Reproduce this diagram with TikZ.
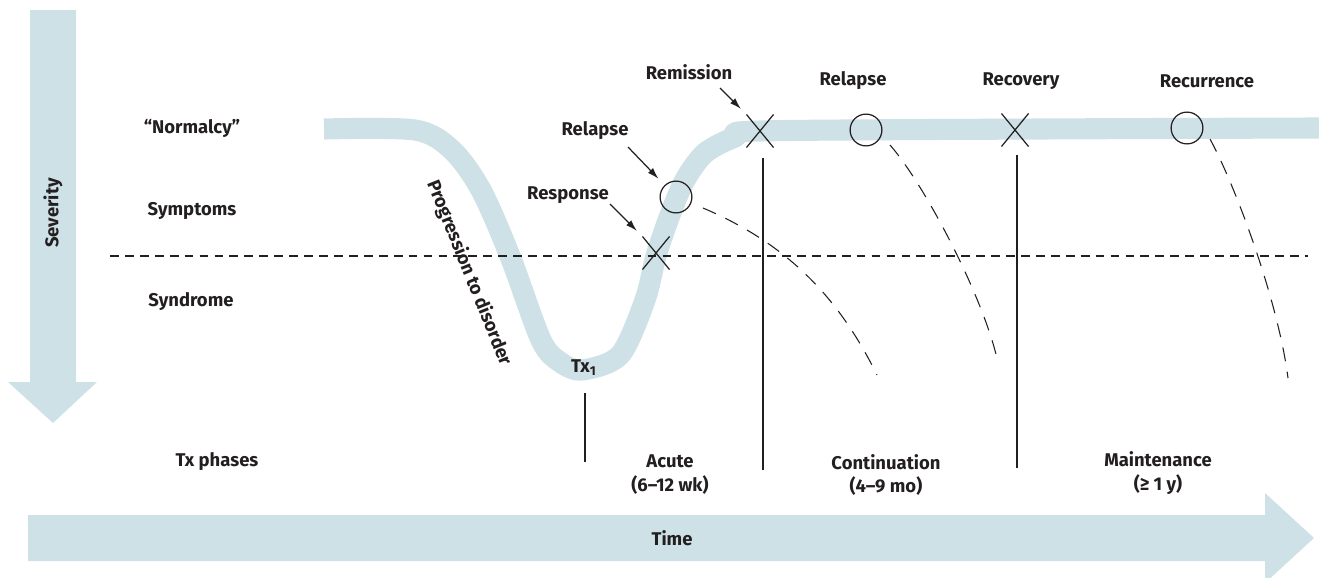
\documentclass[tikz,border=0pt]{standalone}
\usepackage{fontspec}
\setmainfont{Fira Sans}
\usepackage{tikz}
\usetikzlibrary{shapes.misc,arrows.meta}
\definecolor{BandBlue}{RGB}{205,225,230}
\definecolor{InkGrey}{RGB}{35,31,32}
\newcommand\crossat[2]{% name, position
  \node[cross out,draw=InkGrey,line width=0.7pt,minimum width=14.7pt,minimum height=18.1pt,inner sep=0pt] at (#2) (#1) {};
}
\newcommand\ringat[2]{% name, position
  \node[circle,draw=InkGrey,line width=0.7pt,minimum size=18.1pt,inner sep=0pt] at (#2) (#1) {};
}

\begin{document}
\begin{tikzpicture}[x=0.02cm,y=-0.02cm]
		\tikzstyle{every node}=[text=InkGrey,inner sep=1pt,font=\fontsize{10.5}{13.6}\selectfont\bfseries]
		\tikzstyle{BandSty}=[draw=BandBlue,line width=12pt,line join=round]
		\tikzstyle{LineSty}=[draw=InkGrey,line width=0.6pt]
		\tikzstyle{DashSty}=[draw=InkGrey,line width=0.6pt,dash pattern=on 8pt off 6pt]
		\tikzstyle{ThreshSty}=[draw=InkGrey,line width=0.6pt,dash pattern=on 5pt off 3.5pt]
		\tikzstyle{ArrSty}=[draw=InkGrey,line width=0.7pt,-{Latex[length=6.5pt,width=4pt]},shorten >=4.5pt]

\useasboundingbox (0,0) rectangle (1319,578);

% severity and time arrows
\fill[BandBlue] (30,10) -- (76,10) -- (76,382) -- (97,382) -- (53,423) -- (8,382) -- (30,382) -- cycle;
\fill[BandBlue] (28,515) -- (1265,515) -- (1265,493) -- (1314,538) -- (1265,583) -- (1265,561) -- (28,561) -- cycle;

% course of illness
\draw[BandSty] plot[smooth,tension=0.5] coordinates {(324,129) (415,130) (452,150) (481,190) (510,256) (541,340) (560,362) (582,370) (620,355) (645,300) (656,256) (670,215) (685,180) (705,153) (735,137) (760,131) (1040,129) (1319,128)};

\draw[ThreshSty] (110,256) -- (1308,256);

\crossat{respX}{656,253}
\ringat{relapseA}{676,197}
\crossat{remisX}{760,131}
\ringat{relapseB}{866,130}
\crossat{recovX}{1015,130}
\ringat{recurO}{1187,128}

\draw[DashSty] (703,208) .. controls (790,245) and (840,300) .. (877,375);
\draw[DashSty] (890,145) .. controls (925,185) and (985,300) .. (998,363);
\draw[DashSty] (1210,139) .. controls (1235,185) and (1278,300) .. (1288,378);

\draw[LineSty] (585,393) -- (585,462);
\draw[LineSty] (763,158) -- (763,470);
\draw[LineSty] (1017,155) -- (1017,468);

% row labels
\node at (192,128) (normalcy) {“Normalcy”};
\node at (192,211) (symptoms) {Symptoms};
\node at (191,302) (syndrome) {Syndrome};
\node[rotate=90] at (53,213) (severity) {Severity};
\node at (217,462) (txphases) {Tx phases};
\node at (672,538) (time) {Time};

\node[rotate=-68] at (469,273) (progr) {Progression to disorder};
\node at (584,368) (txone) {Tx\textsubscript{1}};

\node[align=center] at (670,475) (acute) {Acute\\(6–12 wk)};
\node[align=center] at (886,475) (contin) {Continuation\\(4–9 mo)};
\node[align=center] at (1158,473) (maint) {Maintenance\\(≥ 1 y)};

% event labels
\node at (689,72) (remislbl) {Remission};
\node at (595,131) (relapselbl) {Relapse};
\node at (568,195) (resplbl) {Response};
\node at (853,81) (relapseBlbl) {Relapse};
\node at (1021,81) (recovlbl) {Recovery};
\node at (1207,81) (recurlbl) {Recurrence};

\coordinate (remistail) at (720,88);
\coordinate (relapsetail) at (628,147);
\coordinate (resptail) at (610,204);

\draw[ArrSty] (remistail) -- (remisX.north west);
\draw[ArrSty,shorten >=5pt] (relapsetail) -- (relapseA);
\draw[ArrSty] (resptail) -- (respX.north west);

\end{tikzpicture}
\end{document}
